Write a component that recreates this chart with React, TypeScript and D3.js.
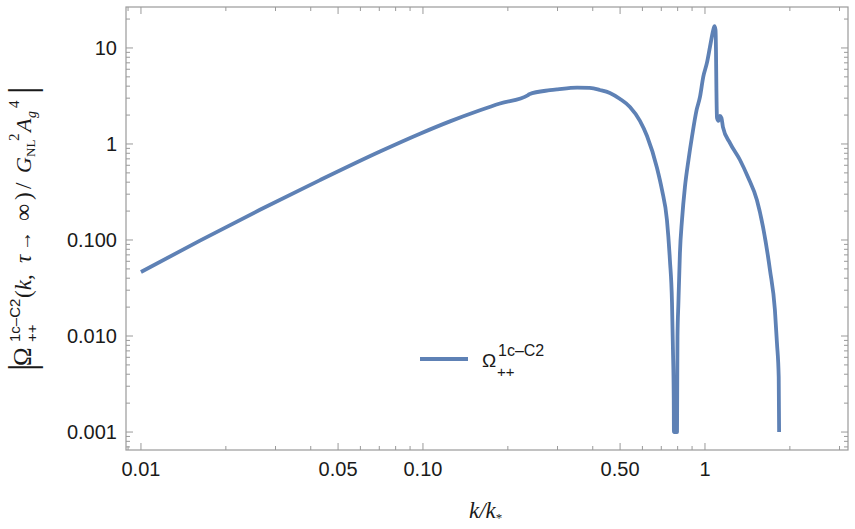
import React from 'react';
import * as d3 from 'd3';

const kValues = [
  0.01, 0.01619, 0.02642, 0.04313, 0.0704, 0.0976, 0.1247, 0.1593, 0.1875, 0.236, 0.238, 0.282, 0.30, 0.352, 0.39, 0.424,
  0.46, 0.5, 0.542, 0.588, 0.623, 0.676, 0.704, 0.733, 0.751, 0.764, 0.77, 0.775, 0.776,
  0.796, 0.797, 0.799, 0.805, 0.815, 0.829, 0.849, 0.874, 0.899, 0.934, 0.96, 0.986, 1.016, 1.042,
  1.07, 1.081, 1.09, 1.094, 1.098, 1.103, 1.116, 1.13, 1.144, 1.158, 1.227, 1.331, 1.42, 1.528,
  1.606, 1.7, 1.77, 1.8, 1.826, 1.832,
];
const omegaValues = [
  0.0464, 0.0986, 0.2064, 0.4207, 0.835, 1.28, 1.72, 2.244, 2.642, 3.23, 3.3, 3.63, 3.71, 3.87, 3.83, 3.65,
  3.4, 2.94, 2.43, 1.74, 1.21, 0.562, 0.332, 0.162, 0.0619, 0.0221, 0.00715, 0.00215, 0.001,
  0.001, 0.00215, 0.00978, 0.0221, 0.073, 0.162, 0.356, 0.681, 1.18, 2.26, 3.09, 5.0, 6.98, 10.3,
  15.4, 16.9, 15.4, 9.5, 3.65, 1.87, 1.74, 1.96, 1.87, 1.5, 1.02, 0.681, 0.453, 0.261,
  0.137, 0.0487, 0.0187, 0.00845, 0.00374, 0.001,
];

const xDomain = [0.00885, 3.215];
const yDomain = [0.00065, 26.7];

const xMajorTicks = [0.01, 0.05, 0.1, 0.5, 1];
const xMajorLabels = ['0.01', '0.05', '0.10', '0.50', '1'];
const xMinorTicks = [0.009, 0.02, 0.03, 0.04, 0.06, 0.07, 0.08, 0.09, 0.2, 0.3, 0.4, 0.6, 0.7, 0.8, 0.9, 2, 3];
const yMajorTicks = [0.001, 0.01, 0.1, 1, 10];
const yMajorLabels = ['0.001', '0.010', '0.100', '1', '10'];
const yMinorTicks = [
  0.0007, 0.0008, 0.0009,
  0.002, 0.003, 0.004, 0.005, 0.006, 0.007, 0.008, 0.009,
  0.02, 0.03, 0.04, 0.05, 0.06, 0.07, 0.08, 0.09,
  0.2, 0.3, 0.4, 0.5, 0.6, 0.7, 0.8, 0.9,
  2, 3, 4, 5, 6, 7, 8, 9, 20,
];

const W = 855;
const H = 529;
const L = 126;
const R = 848;
const T = 7;
const B = 450;
const LINE = '#5E81B5';
const FRAME = '#9a9a9a';
const TXT = '#1a1a1a';
const SANS = "'Liberation Sans', Arial, sans-serif";
const SERIF = "'Liberation Serif', 'Times New Roman', serif";

export default function App() {
  const x = d3.scaleLog().domain(xDomain).range([L, R]);
  const y = d3.scaleLog().domain(yDomain).range([B, T]);
  const pts = kValues.map((k, i) => [k, omegaValues[i]] as [number, number]);
  const line = d3
    .line<[number, number]>()
    .x((d) => x(d[0]))
    .y((d) => y(d[1]))
    .curve(d3.curveMonotoneX);
  const majLen = 7;
  const minLen = 4;

  return (
    <svg width={W} height={H} style={{ position: 'absolute', left: 0, top: 0, background: '#fff' }}>
      <defs>
        <clipPath id="plotclip">
          <rect x={L} y={T} width={R - L} height={B - T} />
        </clipPath>
      </defs>
      {/* ticks */}
      <g stroke={FRAME} strokeWidth={1}>
        {xMajorTicks.map((t) => (
          <g key={'xM' + t}>
            <line x1={x(t)} x2={x(t)} y1={B} y2={B - majLen} />
            <line x1={x(t)} x2={x(t)} y1={T} y2={T + majLen} />
          </g>
        ))}
        {xMinorTicks.map((t) => (
          <g key={'xm' + t}>
            <line x1={x(t)} x2={x(t)} y1={B} y2={B - minLen} />
            <line x1={x(t)} x2={x(t)} y1={T} y2={T + minLen} />
          </g>
        ))}
        {yMajorTicks.map((t) => (
          <g key={'yM' + t}>
            <line x1={L} x2={L + majLen} y1={y(t)} y2={y(t)} />
            <line x1={R} x2={R - majLen} y1={y(t)} y2={y(t)} />
          </g>
        ))}
        {yMinorTicks.map((t) => (
          <g key={'ym' + t}>
            <line x1={L} x2={L + minLen} y1={y(t)} y2={y(t)} />
            <line x1={R} x2={R - minLen} y1={y(t)} y2={y(t)} />
          </g>
        ))}
      </g>
      <rect x={L} y={T} width={R - L} height={B - T} fill="none" stroke={FRAME} strokeWidth={1.2} />
      {/* tick labels */}
      <g fontFamily={SANS} fontSize={20} fill={TXT}>
        {xMajorTicks.map((t, i) => (
          <text key={'xl' + t} x={x(t)} y={476} textAnchor="middle">
            {xMajorLabels[i]}
          </text>
        ))}
        {yMajorTicks.map((t, i) => (
          <text key={'yl' + t} x={117} y={y(t) + 7} textAnchor="end">
            {yMajorLabels[i]}
          </text>
        ))}
      </g>
      {/* curve */}
      <path
        d={line(pts) || ''}
        fill="none"
        stroke={LINE}
        strokeWidth={3.8}
        strokeLinejoin="round"
        clipPath="url(#plotclip)"
      />
      {/* legend */}
      <line x1={420} x2={468} y1={359} y2={359} stroke={LINE} strokeWidth={3.8} />
      <text x={482} y={367} fontFamily={SANS} fontSize={19} fill={TXT}>Ω</text>
      <text x={498} y={356} fontFamily={SANS} fontSize={16} fill={TXT}>1c–C2</text>
      <text x={497} y={377} fontFamily={SANS} fontSize={15} fill={TXT}>++</text>
      {/* x axis title */}
      <text x={469} y={518} fontFamily={SERIF} fontSize={23} fill={TXT} fontStyle="italic">
        k/k
        <tspan fontSize={13} dy={4} fontStyle="normal">*</tspan>
      </text>
      {/* y axis title */}
      <g transform="translate(31,0) rotate(-90)" fontFamily={SERIF} fill={TXT}>
        <text x={-371} y={3.5} fontSize={38}>|</text>
        <text x={-366} y={0} fontSize={25}>Ω</text>
        <text x={-342} y={-11} fontSize={15} fontFamily={SANS}>1c–C2</text>
        <text x={-342} y={6} fontSize={15} fontFamily={SANS}>++</text>
        <text x={-298} y={0} fontSize={23}>
          (<tspan fontStyle="italic">k</tspan>,
        </text>
        <text x={-263} y={0} fontSize={23} fontStyle="italic">τ</text>
        <text x={-251} y={0} fontSize={20}>→</text>
        <text x={-221} y={0} fontSize={24}>∞</text>
        <text x={-200} y={0} fontSize={23}>)</text>
        <text x={-189} y={0} fontSize={23}>/</text>
        <text x={-173} y={0} fontSize={22} fontStyle="italic">G</text>
        <text x={-157} y={4} fontSize={13}>NL</text>
        <text x={-141} y={-12} fontSize={15}>2</text>
        <text x={-132} y={0} fontSize={22} fontStyle="italic">A</text>
        <text x={-118} y={5} fontSize={14} fontStyle="italic">g</text>
        <text x={-108} y={-12} fontSize={15}>4</text>
        <text x={-94} y={3.5} fontSize={38}>|</text>
      </g>
    </svg>
  );
}
